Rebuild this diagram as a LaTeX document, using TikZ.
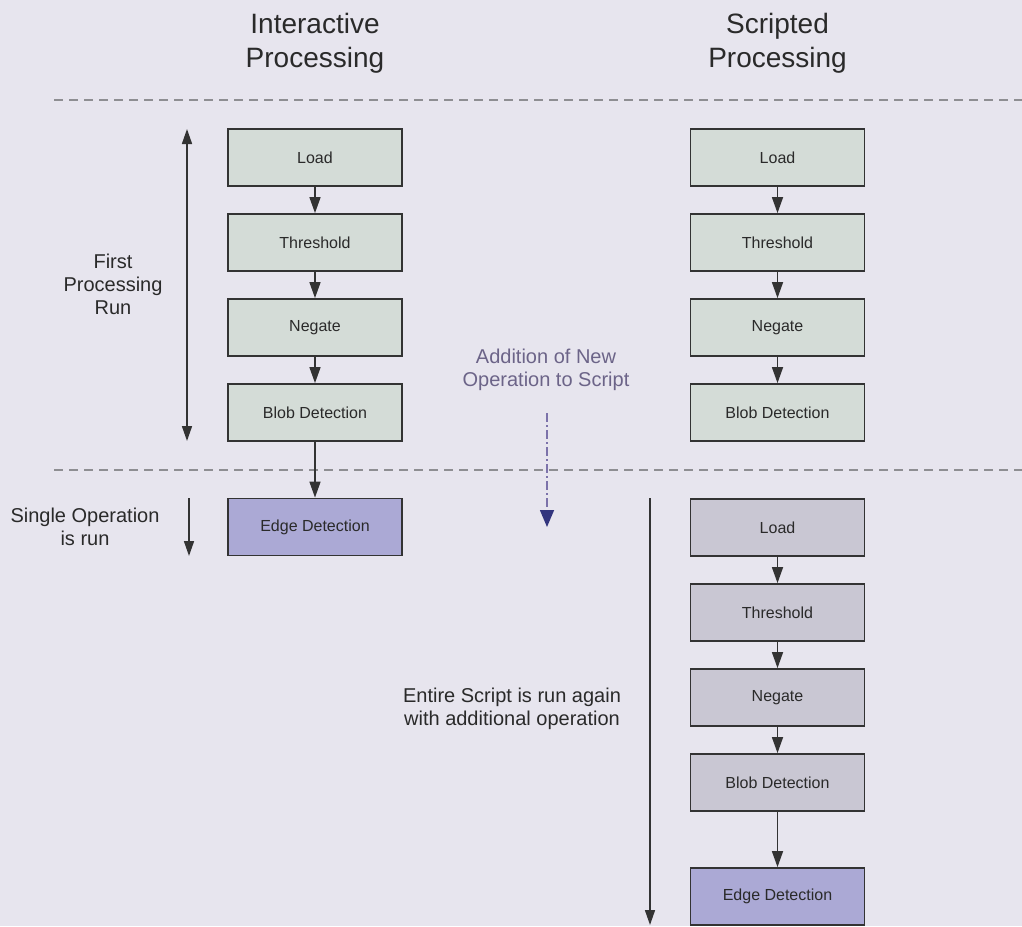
\documentclass[tikz,border=0pt]{standalone}
\usepackage{fontspec}
\setmainfont{Liberation Sans}
\usetikzlibrary{arrows.meta}
\definecolor{bg}{HTML}{E7E5EE}
\definecolor{greenfill}{HTML}{D4DCD7}
\definecolor{grayfill}{HTML}{C9C7D3}
\definecolor{bluefill}{HTML}{ABA9D5}
\definecolor{boxline}{HTML}{333333}
\definecolor{txt}{HTML}{2A2A2A}
\definecolor{dashgray}{HTML}{8E8E92}
\definecolor{purpletxt}{HTML}{6C6488}
\definecolor{purpleline}{HTML}{7C72AA}
\definecolor{navytip}{HTML}{33357E}
\begin{document}
\begin{tikzpicture}[x=1pt,y=-1pt,
  opbox/.style={draw=boxline, line width=1.8pt, minimum width=174pt, minimum height=57pt,
    inner sep=0pt, font=\fontsize{16}{18}\selectfont, text=txt},
  greenbox/.style={opbox, fill=greenfill},
  graybox/.style={opbox, fill=grayfill},
  bluebox/.style={opbox, fill=bluefill},
  tip/.style={Triangle[width=11pt,length=16pt]},
  flow/.style={-{Triangle[width=11pt,length=16pt]}, line width=1.6pt, draw=boxline},
  sidearrow/.style={line width=1.6pt, draw=boxline},
  sepline/.style={draw=dashgray, line width=1.3pt, dash pattern=on 9pt off 6pt},
  heading/.style={align=center, font=\fontsize{28}{34}\selectfont, text=txt},
  label/.style={align=center, font=\fontsize{20}{23}\selectfont, text=txt}
]
\useasboundingbox[fill=bg] (0,0) rectangle (1022,926);

% headings
\node[heading] (h1) at (315,43) {Interactive\\Processing};
\node[heading] (h2) at (777.5,43) {Scripted\\Processing};

% separators
\coordinate (s1a) at (54,100); \coordinate (s1b) at (1022,100);
\coordinate (s2a) at (54,470); \coordinate (s2b) at (1022,470);
\draw[sepline] (s1a) -- (s1b);
\draw[sepline] (s2a) -- (s2b);

% left column
\node[greenbox] (l1) at (315,157.5) {Load};
\node[greenbox] (l2) at (315,242.5) {Threshold};
\node[greenbox] (l3) at (315,327.5) {Negate};
\node[greenbox] (l4) at (315,412.5) {Blob Detection};
\node[bluebox]  (l5) at (315,527) {Edge Detection};
\draw[flow] (l1) -- (l2);
\draw[flow] (l2) -- (l3);
\draw[flow] (l3) -- (l4);
\draw[flow] (l4) -- (l5);

% right column, top
\node[greenbox] (r1) at (777.5,157.5) {Load};
\node[greenbox] (r2) at (777.5,242.5) {Threshold};
\node[greenbox] (r3) at (777.5,327.5) {Negate};
\node[greenbox] (r4) at (777.5,412.5) {Blob Detection};
\draw[flow] (r1) -- (r2);
\draw[flow] (r2) -- (r3);
\draw[flow] (r3) -- (r4);

% right column, bottom
\node[graybox] (q1) at (777.5,527.5) {Load};
\node[graybox] (q2) at (777.5,612.5) {Threshold};
\node[graybox] (q3) at (777.5,697.5) {Negate};
\node[graybox] (q4) at (777.5,782.5) {Blob Detection};
\node[bluebox] (q5) at (777.5,896.5) {Edge Detection};
\draw[flow] (q1) -- (q2);
\draw[flow] (q2) -- (q3);
\draw[flow] (q3) -- (q4);
\draw[flow] (q4) -- (q5);

% first processing run
\node[label] (first) at (113,284) {First\\Processing\\Run};
\coordinate (fa) at (187,129);
\coordinate (fb) at (187,441);
\draw[sidearrow, {Triangle[width=10pt,length=15pt]}-{Triangle[width=10pt,length=15pt]}] (fa) -- (fb);

% single operation
\node[label] (single) at (85,527) {Single Operation\\is run};
\coordinate (sa) at (189,498);
\coordinate (sb) at (189,556);
\draw[sidearrow, -{Triangle[width=10pt,length=15pt]}] (sa) -- (sb);

% addition of new operation
\node[label, text=purpletxt] (add) at (546,370) {Addition of New\\Operation to Script};
\coordinate (aa) at (547,413);
\coordinate (ab) at (547,527);
\draw[draw=purpleline, line width=1.5pt, dash pattern=on 9pt off 3pt on 2pt off 3pt,
  -{Triangle[width=14pt,length=17pt,fill=navytip,color=navytip]}] (aa) -- (ab);

% entire script
\node[label] (entire) at (512,709) {Entire Script is run again\\with additional operation};
\coordinate (ea) at (650,498);
\coordinate (eb) at (650,925);
\draw[sidearrow, -{Triangle[width=10pt,length=15pt]}] (ea) -- (eb);
\end{tikzpicture}
\end{document}
